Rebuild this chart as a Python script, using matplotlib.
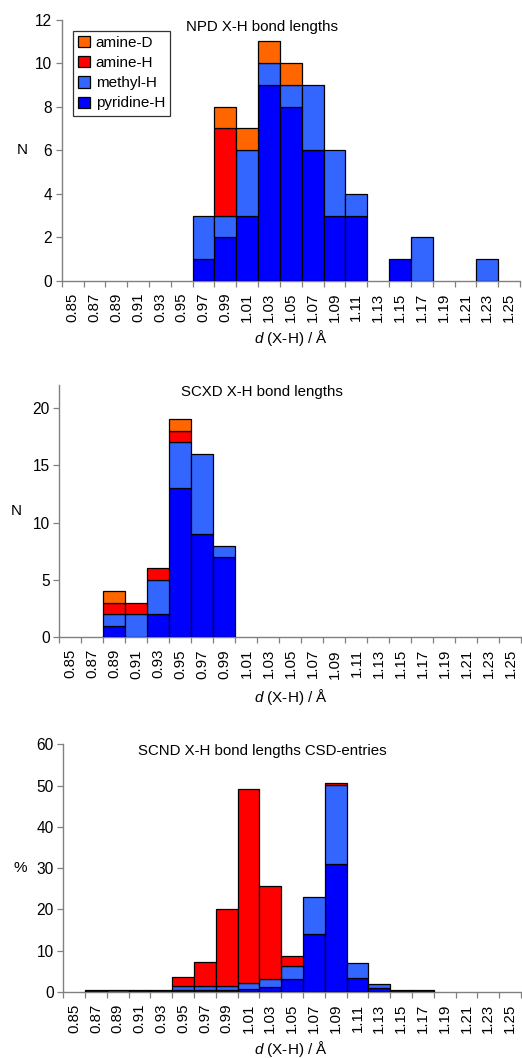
import numpy as np
import matplotlib
matplotlib.use("Agg")
import matplotlib.pyplot as plt
from matplotlib.patches import Patch

plt.rcParams['font.family'] = ['Liberation Sans', 'DejaVu Sans']
plt.rcParams['mathtext.fontset'] = 'custom'
plt.rcParams['mathtext.it'] = 'Liberation Sans:italic'
plt.rcParams['mathtext.rm'] = 'Liberation Sans'

categories = ["0.85", "0.87", "0.89", "0.91", "0.93", "0.95", "0.97", "0.99", "1.01",
              "1.03", "1.05", "1.07", "1.09", "1.11", "1.13", "1.15", "1.17", "1.19",
              "1.21", "1.23", "1.25"]
series_names = ["pyridine-H", "methyl-H", "amine-H", "amine-D"]
colors = ["#0000FF", "#3366FF", "#FF0000", "#FF6600"]

# NPD panel (counts)
npd_pyridine = [0, 0, 0, 0, 0, 0, 1, 2, 3, 9, 8, 6, 3, 3, 0, 1, 0, 0, 0, 0, 0]
npd_methyl   = [0, 0, 0, 0, 0, 0, 2, 1, 3, 1, 1, 3, 3, 1, 0, 0, 2, 0, 0, 1, 0]
npd_amineH   = [0, 0, 0, 0, 0, 0, 0, 4, 0, 0, 0, 0, 0, 0, 0, 0, 0, 0, 0, 0, 0]
npd_amineD   = [0, 0, 0, 0, 0, 0, 0, 1, 1, 1, 1, 0, 0, 0, 0, 0, 0, 0, 0, 0, 0]

# SCXD panel (counts)
scxd_pyridine = [0, 0, 1, 0, 2, 13, 9, 7, 0, 0, 0, 0, 0, 0, 0, 0, 0, 0, 0, 0, 0]
scxd_methyl   = [0, 0, 1, 2, 3, 4, 7, 1, 0, 0, 0, 0, 0, 0, 0, 0, 0, 0, 0, 0, 0]
scxd_amineH   = [0, 0, 1, 1, 1, 1, 0, 0, 0, 0, 0, 0, 0, 0, 0, 0, 0, 0, 0, 0, 0]
scxd_amineD   = [0, 0, 1, 0, 0, 1, 0, 0, 0, 0, 0, 0, 0, 0, 0, 0, 0, 0, 0, 0, 0]

# SCND CSD-entries panel (percent)
scnd_pyridine = [0, 0.4, 0, 0.4, 0.6, 0.6, 0.6, 0.6, 0.7, 1.2, 3.1, 14.0, 31.1, 3.3, 1.0, 0.4, 0.4, 0, 0, 0, 0]
scnd_methyl   = [0, 0, 0, 0, 0, 0.8, 0.8, 0.8, 1.4, 1.9, 3.3, 8.9, 19.0, 3.7, 0.9, 0, 0, 0, 0, 0, 0]
scnd_amineH   = [0, 0, 0.4, 0, 0, 2.2, 5.8, 18.6, 47.0, 22.6, 2.4, 0, 0.5, 0, 0, 0, 0, 0, 0, 0, 0]
scnd_amineD   = [0] * 21

W, H = 522, 1058
fig = plt.figure(figsize=(W / 100, H / 100), dpi=100)

def px_axes(left, right, top, bottom):
    return fig.add_axes([left / W, 1 - bottom / H, (right - left) / W, (bottom - top) / H])

panels = [
    dict(rect=(61.7, 520, 19.5, 281), data=[npd_pyridine, npd_methyl, npd_amineH, npd_amineD],
         ylim=12, ystep=2, title="NPD X-H bond lengths", title_y=27, ylabel="N",
         ylabel_xy=(22.7, 150), xlabel_y=338),
    dict(rect=(59.3, 521.5, 385, 637.3), data=[scxd_pyridine, scxd_methyl, scxd_amineH, scxd_amineD],
         ylim=22, ystep=5, title="SCXD X-H bond lengths", title_y=391.7, ylabel="N",
         ylabel_xy=(16.7, 510.7), xlabel_y=697),
    dict(rect=(63.3, 521, 744.3, 992), data=[scnd_pyridine, scnd_methyl, scnd_amineH, scnd_amineD],
         ylim=60, ystep=10, title="SCND X-H bond lengths CSD-entries", title_y=750.7, ylabel="%",
         ylabel_xy=(20, 868), xlabel_y=1049),
]

x = np.arange(len(categories))
axes_list = []
for p in panels:
    l, r, t, b = p['rect']
    ax = px_axes(l, r, t, b)
    axes_list.append(ax)
    bottom = np.zeros(len(categories))
    for vals, col, name in zip(p['data'], colors, series_names):
        v = np.array(vals, dtype=float)
        m = v > 0
        if m.any():
            ax.bar(x[m], v[m], width=1.0, bottom=bottom[m], color=col,
                   edgecolor='black', linewidth=0.9, zorder=3)
        bottom += v
    ax.set_xlim(-0.5, len(categories) - 0.5)
    ax.set_ylim(0, p['ylim'])
    ax.set_yticks(np.arange(0, p['ylim'] + 0.01, p['ystep']))
    ax.set_xticks(np.arange(-0.5, len(categories), 1.0))
    ax.set_xticklabels([])
    ax.set_xticks(x, minor=True)
    ax.set_xticklabels(categories, minor=True, rotation=90, fontsize=10.8)
    ax.tick_params(axis='x', which='major', length=4, width=0.9, color='#808080', direction='out')
    ax.tick_params(axis='x', which='minor', length=0, pad=8.5)
    ax.tick_params(axis='y', length=4, width=0.9, color='#808080', direction='out', labelsize=11.2, pad=3)
    for s in ['top', 'right']:
        ax.spines[s].set_visible(False)
    for s in ['left', 'bottom']:
        ax.spines[s].set_color('#808080')
        ax.spines[s].set_linewidth(1.0)
        ax.spines[s].set_zorder(2)
    fig.text(262 / W, 1 - p['title_y'] / H, p['title'], ha='center', va='center', fontsize=10.8)
    fig.text(p['ylabel_xy'][0] / W, 1 - p['ylabel_xy'][1] / H, p['ylabel'], ha='center',
             va='center', fontsize=11)
    fig.text(291 / W, 1 - p['xlabel_y'] / H, r"$d$ (X-H) / Å", ha='center', va='center', fontsize=11)

handles = [Patch(facecolor=c, edgecolor='black', linewidth=0.9, label=n)
           for c, n in zip(colors[::-1], series_names[::-1])]
ax0 = axes_list[0]
leg = ax0.legend(handles=handles, loc='upper left', bbox_to_anchor=(0.024, 0.957),
                 borderaxespad=0, fontsize=11, frameon=True, fancybox=False,
                 handlelength=0.75, handleheight=0.75, handletextpad=0.4,
                 labelspacing=0.4, borderpad=0.35)
leg.get_frame().set_edgecolor('black')
leg.get_frame().set_linewidth(0.9)

fig.savefig("out.png", dpi=100)
